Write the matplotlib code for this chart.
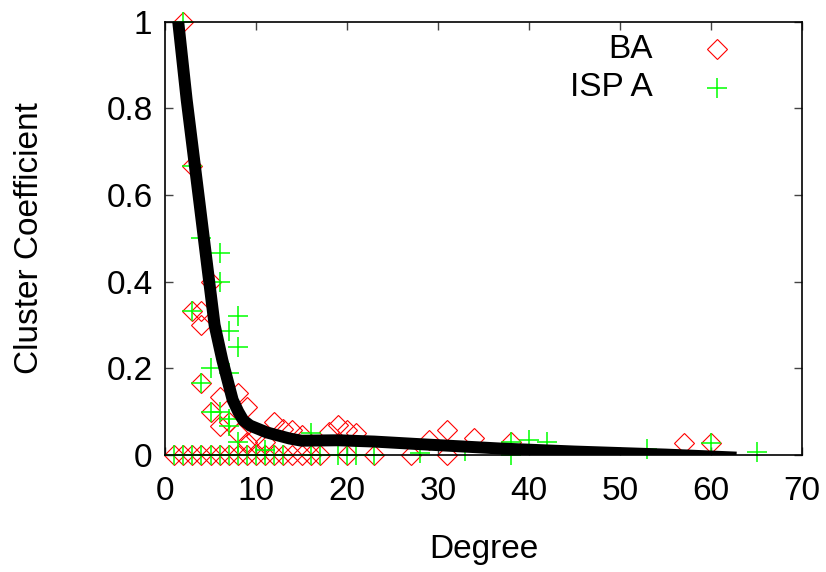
import matplotlib
matplotlib.use("Agg")
import matplotlib.pyplot as plt

# BA (red diamonds)
ba_deg = [1, 2, 3, 4, 5, 6, 7, 8, 9, 10, 11, 12, 13, 14, 15, 16, 17, 20, 23, 27, 31,
          2, 3, 3, 4, 4, 5, 4, 5, 6, 8, 9, 6, 7, 12, 8, 9, 10, 11, 13, 14, 15,
          18, 19, 20, 21, 29, 31, 34, 38, 57, 60]
ba_cc = [0, 0, 0, 0, 0, 0, 0, 0, 0, 0, 0, 0, 0, 0, 0, 0, 0, 0, 0, 0, 0,
         1.0, 0.667, 0.333, 0.333, 0.3, 0.4, 0.167, 0.1, 0.133, 0.143, 0.111, 0.067, 0.076, 0.076,
         0.05, 0.03, 0.044, 0.03, 0.06, 0.058, 0.046,
         0.054, 0.069, 0.058, 0.05, 0.035, 0.058, 0.04, 0.031, 0.028, 0.027]

# ISP A (green pluses)
isp_deg = [1, 2, 3, 4, 5, 6, 7, 8, 9, 10, 11, 12, 13, 16, 17, 19, 20, 21, 23, 38,
           2, 3, 3, 4, 6, 6, 8, 7, 8, 5, 7, 4, 5, 6, 7, 7, 8, 11,
           16, 28, 33, 38, 40, 42, 53, 60, 65]
isp_cc = [0, 0, 0, 0, 0, 0, 0, 0, 0, 0, 0, 0, 0, 0, 0, 0, 0, 0, 0, 0,
          1.0, 0.667, 0.333, 0.5, 0.467, 0.4, 0.321, 0.286, 0.25, 0.2, 0.19, 0.167, 0.1, 0.1,
          0.083, 0.067, 0.03, 0.012,
          0.05, 0.004, 0.01, 0.031, 0.035, 0.03, 0.015, 0.027, 0.008]

# fitted trend (thick black line)
fit_deg = [1.35, 2.38, 3.8, 4.65, 5.45, 6.3, 6.78, 7.44, 8.05, 8.6, 9.34, 11.2, 13.7,
           15, 19, 23, 28, 36.8, 45, 55, 62.8]
fit_cc = [1.02, 0.82, 0.58, 0.435, 0.30, 0.219, 0.18, 0.127, 0.1, 0.08, 0.068, 0.052, 0.038,
          0.033, 0.034, 0.031, 0.025, 0.015, 0.008, 0.001, -0.006]

plt.rcParams['font.family'] = ['Liberation Sans', 'DejaVu Sans']
plt.rcParams['font.size'] = 24

fig = plt.figure(figsize=(8.26, 5.72), dpi=100)
ax = fig.add_axes([165 / 826, 1 - 455 / 572, 637 / 826, 433.3 / 572])

ax.plot(ba_deg, ba_cc, linestyle='none', marker='D', markersize=10,
        markerfacecolor='none', markeredgecolor='#ff0000', markeredgewidth=0.8,
        clip_on=False, zorder=3)
ax.plot(isp_deg, isp_cc, linestyle='none', marker='+', markersize=15,
        markeredgecolor='#00ff00', markeredgewidth=1.1, clip_on=False, zorder=4)
ax.plot(fit_deg, fit_cc, color='black', linewidth=8.6, solid_capstyle='butt',
        solid_joinstyle='round', zorder=5)

ax.set_xlim(0, 70)
ax.set_ylim(0, 1)
ax.set_xticks(range(0, 71, 10))
ax.set_yticks([0, 0.2, 0.4, 0.6, 0.8, 1])
ax.set_yticklabels(['0', '0.2', '0.4', '0.6', '0.8', '1'])
ax.tick_params(direction='in', length=6, width=1, color='#444444',
               top=True, right=True)
ax.tick_params(axis='x', pad=15)
ax.tick_params(axis='y', pad=9)
for s in ax.spines.values():
    s.set_linewidth(1.2)
    s.set_zorder(6)

ax.set_xlabel('Degree')
ax.xaxis.label.set_va('center')
ax.xaxis.set_label_coords(0.5, -0.219)
ax.set_ylabel('Cluster Coefficient')
ax.yaxis.label.set_va('center')
ax.yaxis.set_label_coords(-0.212, 0.5)

# key
ax.text(0.766, 0.9363, 'BA', transform=ax.transAxes, ha='right', va='center')
ax.plot([0.8666], [0.9363], transform=ax.transAxes, marker='D', markersize=10,
        markerfacecolor='none', markeredgecolor='#ff0000', markeredgewidth=0.8)
ax.text(0.766, 0.8477, 'ISP A', transform=ax.transAxes, ha='right', va='center')
ax.plot([0.8666], [0.8477], transform=ax.transAxes, marker='+', markersize=15,
        markeredgecolor='#00ff00', markeredgewidth=1.1)

fig.savefig('out.png', dpi=100)
